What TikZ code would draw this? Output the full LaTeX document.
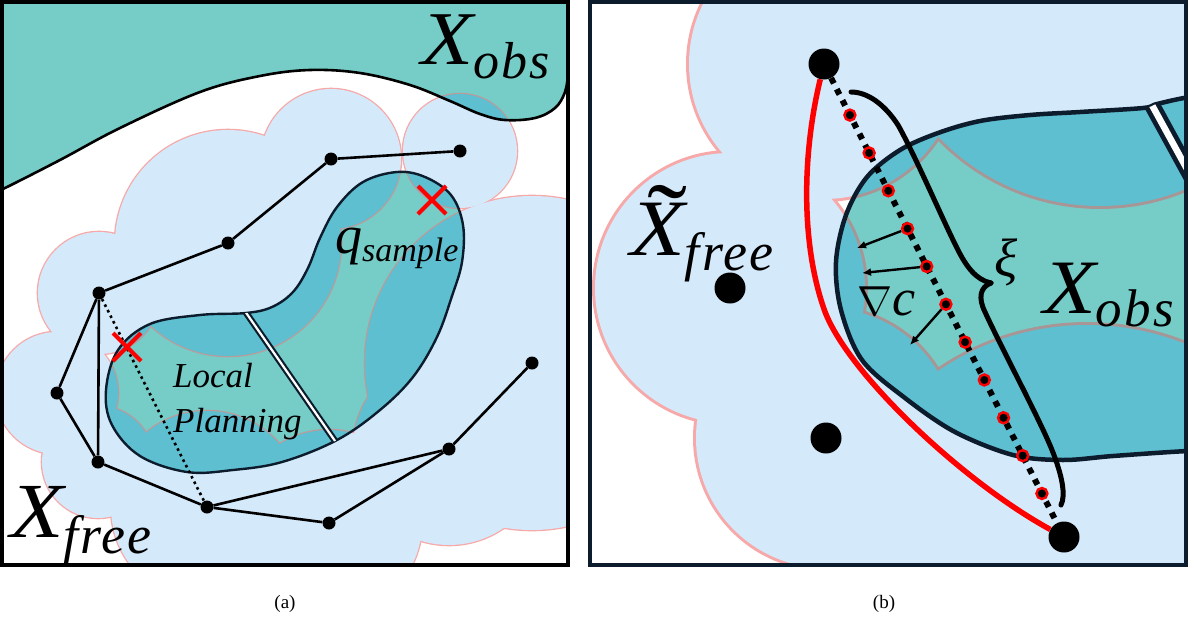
\documentclass[tikz,border=0pt]{standalone}
\usepackage{fontspec}
\setmainfont{Liberation Serif}
\newfontfamily\subf[LetterSpace=4]{Liberation Serif}
\usetikzlibrary{arrows.meta}
\definecolor{obst}{HTML}{76CDC8}
\definecolor{cloudc}{HTML}{D4E9FA}
\definecolor{ovl}{HTML}{5EBFD1}
\definecolor{pinkc}{HTML}{F7A9A9}
\definecolor{pinkinA}{HTML}{B89C9C}
\definecolor{pinkinB}{HTML}{A89696}
\definecolor{navy}{HTML}{0C1C2C}
\definecolor{redc}{HTML}{FF0000}
\newcommand{\wideX}{\scalebox{1.12}[1]{X}}
\def\circlesA{99/293/61,57/393/61,98/462/56,207/507/96,228/243/113,331/159/70,460/151/57,449/449/96,329/523/93,532/363/167}
\def\circlesB{824/64/135,730/288/135,826/438/130,1064/537/120,1100/-17/223,1087/589/264}
\def\kidA{plot[smooth cycle, tension=0.6] coordinates {(246,313) (272,307) (293,292) (308,268) (320,238) (337,207) (363,182) (397,172) (425,177) (451,195) (463,225) (462,262) (452,296) (437,337) (413,377) (380,410) (337,440) (282,462) (233,470) (187,472) (140,456) (112,425) (106,390) (118,350) (150,324) (200,315)}}
\def\topAcurve{plot[smooth, tension=0.6] coordinates {(-6,192) (3,189) (60,160) (120,128) (200,92) (260,76) (310,70) (360,73) (410,85) (450,101) (480,114) (505,120) (535,118) (555,108) (565,92) (569,70) (575,50)}}
\def\topA{(-10,-10) -- (-10,192) -- plot[smooth, tension=0.6] coordinates {(-6,192) (3,189) (60,160) (120,128) (200,92) (260,76) (310,70) (360,73) (410,85) (450,101) (480,114) (505,120) (535,118) (555,108) (565,92) (569,70) (575,50)} -- (580,-10) -- cycle}
\def\obsB{plot[smooth cycle, tension=0.55] coordinates {(1143,108) (1080,112) (1030,115) (980,121) (938,133) (900,150) (867,177) (846,215) (836,262) (841,310) (862,360) (905,398) (955,432) (1013,455) (1063,460) (1113,456) (1188,451) (1240,450) (1260,270) (1240,92) (1190,97) (1157,104)}}
\tikzset{
  edge/.style={line width=2.6pt, black},
  dottededge/.style={line width=2.6pt, black, dash pattern=on 2.6pt off 3.6pt},
  dot/.style={circle, fill=black, inner sep=0pt, minimum size=13pt},
  bigdot/.style={circle, fill=black, inner sep=0pt, minimum size=31pt},
  ring/.style={circle, fill=black, draw=redc, line width=2.4pt, inner sep=0pt, minimum size=11pt},
  redx/.style={redc, line width=4pt},
  redpath/.style={redc, line width=5.5pt},
  dotline/.style={black, line width=6pt, dash pattern=on 6pt off 6.5pt},
  brace/.style={black, line width=5pt, line cap=round},
  gradarrow/.style={black, line width=2.4pt, -{Latex[length=9pt,width=8pt]}},
  lbl/.style={anchor=base west, inner sep=0pt},
}
\begin{document}
\begin{tikzpicture}[x=1pt,y=-1pt]
\useasboundingbox (0,0) rectangle (1194,619);
\fill[white] (0,0) rectangle (1194,619);
% ================= panel (a)
\begin{scope}
\clip (2,2) rectangle (568,565);
\foreach \x/\y/\r in \circlesA {\draw[pinkc, line width=2.6pt] (\x,\y) circle[radius=\r pt];}
\foreach \x/\y/\r in \circlesA {\fill[cloudc] (\x,\y) circle[radius=\r pt];}
\fill[obst] \topA;
\fill[obst] \kidA;
\begin{scope}
\clip \topA;
\foreach \x/\y/\r in \circlesA {\draw[pinkinA, line width=2.6pt] (\x,\y) circle[radius=\r pt];}
\foreach \x/\y/\r in \circlesA {\fill[ovl] (\x,\y) circle[radius=\r pt];}
\end{scope}
\begin{scope}
\clip \kidA;
\foreach \x/\y/\r in \circlesA {\draw[pinkinA, line width=2.6pt] (\x,\y) circle[radius=\r pt];}
\foreach \x/\y/\r in \circlesA {\fill[ovl] (\x,\y) circle[radius=\r pt];}
\end{scope}
\draw[black, line width=2.6pt] \topAcurve;
\draw[navy, line width=2.4pt] \kidA;
\begin{scope}
\clip \kidA;
\draw[navy, line width=6.5pt] (240,304) -- (342,451);
\draw[white, line width=2.2pt] (240,304) -- (342,451);
\end{scope}
% graph
\node[dot] (n1) at (99,293) {};
\node[dot] (n2) at (57,393) {};
\node[dot] (n3) at (98,462) {};
\node[dot] (n4) at (207,507) {};
\node[dot] (n5) at (228,243) {};
\node[dot] (n6) at (331,159) {};
\node[dot] (n7) at (460,151) {};
\node[dot] (n8) at (449,449) {};
\node[dot] (n9) at (329,523) {};
\node[dot] (n10) at (532,363) {};
\draw[edge] (n7) -- (n6) -- (n5) -- (n1) -- (n2) -- (n3) -- (n4) -- (n8) -- (n10);
\draw[edge] (n1) -- (n3);
\draw[edge] (n4) -- (n9) -- (n8);
\draw[dottededge] (n1) -- (n4);
\coordinate (x1) at (127,347);
\coordinate (x2) at (432,200);
\draw[redx] ([shift={(-14,-14)}]x1) -- ([shift={(14,14)}]x1) ([shift={(-14,14)}]x1) -- ([shift={(14,-14)}]x1);
\draw[redx] ([shift={(-14,-14)}]x2) -- ([shift={(14,14)}]x2) ([shift={(-14,14)}]x2) -- ([shift={(14,-14)}]x2);
\node[lbl] (xobsA) at (421,64) {\fontsize{76}{76}\selectfont\itshape\wideX\raisebox{-14pt}{\subf\itshape\fontsize{52}{52}\selectfont obs}};
\node[lbl] (xfreeA) at (10,537) {\fontsize{78}{78}\selectfont\itshape\wideX\raisebox{-16pt}{\subf\itshape\fontsize{54}{54}\selectfont free}};
\node[lbl] (qs) at (335,253) {\fontsize{54}{54}\selectfont\itshape q\raisebox{-8pt}{\fontsize{34}{34}\selectfont sample}};
\node[lbl, font=\fontsize{35}{35}\selectfont\itshape] (local) at (173,387) {Local};
\node[lbl, font=\fontsize{35}{35}\selectfont\itshape] (planning) at (173,432) {Planning};
\end{scope}
\draw[black, line width=4pt] (2,2) rectangle (568,565);
% ================= panel (b)
\begin{scope}
\clip (590,2) rectangle (1186,565);
\foreach \x/\y/\r in \circlesB {\draw[pinkc, line width=6pt] (\x,\y) circle[radius=\r pt];}
\foreach \x/\y/\r in \circlesB {\fill[cloudc] (\x,\y) circle[radius=\r pt];}
\fill[obst] \obsB;
\begin{scope}
\clip \obsB;
\foreach \x/\y/\r in \circlesB {\draw[pinkinB, line width=6pt] (\x,\y) circle[radius=\r pt];}
\foreach \x/\y/\r in \circlesB {\fill[ovl] (\x,\y) circle[radius=\r pt];}
\end{scope}
\draw[navy, line width=4.5pt] \obsB;
\begin{scope}
\clip \obsB;
\draw[navy, line width=16pt] (1147,96) -- (1199,191);
\draw[white, line width=6.5pt] (1147,96) -- (1199,191);
\end{scope}
\node[bigdot] (S) at (824,64) {};
\node[bigdot] (G) at (1064,537) {};
\node[bigdot] (L) at (730,288) {};
\node[bigdot] (D) at (826,438) {};
\coordinate (rm) at (824,309);
\draw[redpath] (S) .. controls (803,150) and (800,240) .. (rm) .. controls (845,370) and (960,480) .. (G);
\draw[dotline] (S) -- (G);
\foreach \i/\t in {0/0.108,1/0.188,2/0.268,3/0.348,4/0.428,5/0.508,6/0.588,7/0.668,8/0.748,9/0.828,10/0.908}
  {\path (S.center) -- (G.center) node[ring, pos=\t] (r\i) {};}
\coordinate (a1) at (857,248);
\coordinate (a2) at (862,273);
\coordinate (a3) at (910,345);
\draw[gradarrow] (r3) -- (a1);
\draw[gradarrow] (r4) -- (a2);
\draw[gradarrow] (r5) -- (a3);
\draw[brace] (851,92) .. controls (868,92) and (885,105) .. (898,125) .. controls (915,155) and (945,225) .. (958,250) .. controls (966,266) and (976,280) .. (991,283);
\draw[brace] (991,283) .. controls (980,287) and (978,298) .. (985,312) .. controls (1000,345) and (1040,420) .. (1052,450) .. controls (1062,475) and (1066,495) .. (1061,505);
\node (xi) at (1006,262) {\fontsize{54}{54}\selectfont\itshape ξ};
\node[lbl] (xobsB) at (1043,313) {\fontsize{77}{77}\selectfont\itshape\wideX\raisebox{-13pt}{\subf\itshape\fontsize{53}{53}\selectfont obs}};
\node[lbl] (xfreeB) at (630,255) {\fontsize{80}{80}\selectfont\itshape\rlap{\hspace{17pt}\upshape\scalebox{1.5}[1.3]{\char"02DC}}\wideX\raisebox{-15pt}{\subf\itshape\fontsize{54}{54}\selectfont free}};
\node (grad) at (887,301) {\scalebox{4.2}{$\nabla$}\fontsize{52}{52}\selectfont\itshape c};
\end{scope}
\draw[navy, line width=4pt] (590,2) rectangle (1186,565);
\node (capa) at (285,604) {\fontsize{19}{19}\selectfont (a)};
\node (capb) at (884,604) {\fontsize{19}{19}\selectfont (b)};
\end{tikzpicture}
\end{document}
